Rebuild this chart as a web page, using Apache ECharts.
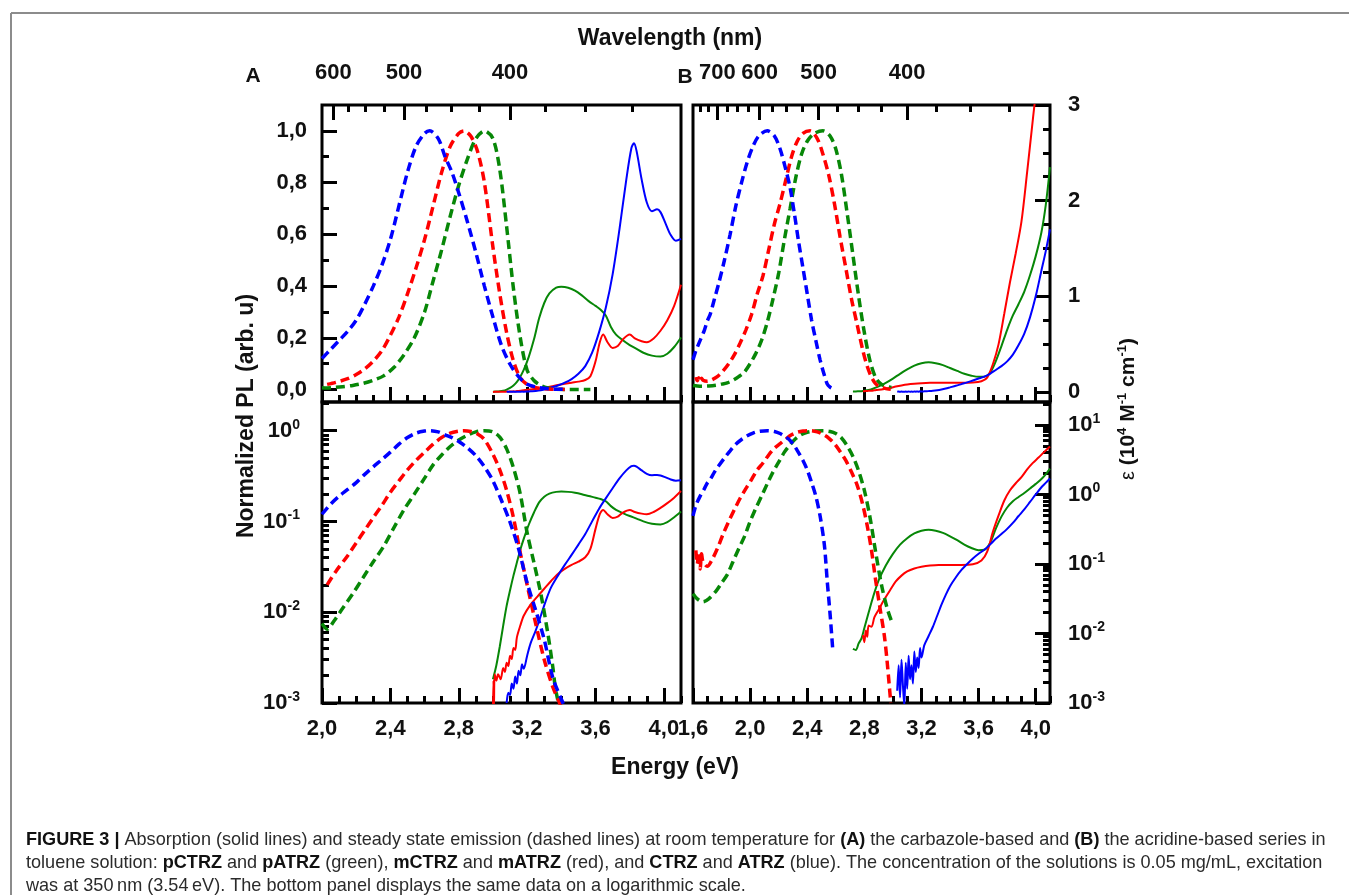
<!DOCTYPE html>
<html>
<head>
<meta charset="utf-8">
<title>Absorption and emission spectra</title>
<script src="https://cdn.jsdelivr.net/npm/echarts@6.0.0/dist/echarts.min.js"></script>
<style>
  html, body { margin: 0; padding: 0; background: #fff; }
  #chart { width: 1349px; height: 895px; }
</style>
</head>
<body>
<div id="chart"></div>
<script>
// ---------------------------------------------------------------
// Spectra: [energy (eV), value]. Emission is normalized PL,
// absorption is epsilon in 10^4 M^-1 cm^-1.
// ---------------------------------------------------------------

// (A) carbazole series - emission
const pCTRZ_em = [[2.00,0.0075],[2.03,0.0065],[2.07,0.008],[2.12,0.011],[2.18,0.016],[2.24,0.024],[2.30,0.036],[2.36,0.053],[2.42,0.085],[2.48,0.135],[2.54,0.20],[2.60,0.30],[2.65,0.42],[2.70,0.54],[2.75,0.67],[2.80,0.79],[2.85,0.89],[2.90,0.97],[2.95,1.0],[3.00,0.97],[3.04,0.85],[3.08,0.63],[3.12,0.39],[3.16,0.20],[3.20,0.075],[3.24,0.035],[3.28,0.016],[3.32,0.006],[3.35,0.0025],[3.37,0.0013],[3.42,0.0006],[3.50,0.0004],[3.57,0.0003]];
const mCTRZ_em = [[2.03,0.02],[2.08,0.028],[2.15,0.042],[2.20,0.058],[2.25,0.08],[2.30,0.11],[2.35,0.15],[2.40,0.21],[2.45,0.28],[2.50,0.37],[2.55,0.47],[2.60,0.58],[2.65,0.71],[2.70,0.84],[2.75,0.94],[2.80,0.99],[2.83,1.0],[2.87,0.98],[2.91,0.92],[2.95,0.80],[3.00,0.55],[3.04,0.37],[3.08,0.22],[3.12,0.11],[3.16,0.045],[3.20,0.02],[3.25,0.0075],[3.30,0.003],[3.35,0.0015],[3.39,0.001],[3.42,0.0007]];
const CTRZ_em = [[2.00,0.12],[2.05,0.155],[2.10,0.19],[2.15,0.225],[2.20,0.268],[2.25,0.33],[2.30,0.40],[2.35,0.48],[2.40,0.58],[2.45,0.71],[2.50,0.84],[2.55,0.94],[2.60,0.99],[2.63,1.0],[2.68,0.97],[2.72,0.90],[2.76,0.84],[2.80,0.76],[2.85,0.65],[2.90,0.53],[2.95,0.40],[3.00,0.28],[3.05,0.17],[3.10,0.098],[3.15,0.05],[3.20,0.021],[3.25,0.0105],[3.30,0.005],[3.35,0.0019],[3.40,0.0011],[3.42,0.0009]];

// (A) carbazole series - absorption
const pCTRZ_abs = [[3.00,0.0022],[3.02,0.0035],[3.04,0.0065],[3.06,0.013],[3.08,0.025],[3.10,0.042],[3.12,0.068],[3.14,0.105],[3.16,0.16],[3.18,0.23],[3.21,0.37],[3.24,0.55],[3.27,0.77],[3.30,0.93],[3.33,1.03],[3.37,1.09],[3.40,1.10],[3.44,1.09],[3.48,1.06],[3.52,1.01],[3.56,0.95],[3.60,0.90],[3.63,0.86],[3.66,0.80],[3.69,0.68],[3.72,0.60],[3.76,0.54],[3.80,0.49],[3.84,0.45],[3.88,0.41],[3.93,0.38],[3.98,0.37],[4.02,0.40],[4.06,0.47],[4.10,0.57]];
const mCTRZ_abs = [[3.000,0.0008],[3.003,0.0021],[3.006,0.0009],[3.010,0.0026],[3.020,0.0021],[3.030,0.0026],[3.045,0.0022],[3.06,0.0032],[3.07,0.0028],[3.08,0.0038],[3.09,0.0034],[3.10,0.0048],[3.11,0.0043],[3.12,0.0062],[3.13,0.0058],[3.14,0.0088],[3.16,0.013],[3.18,0.018],[3.22,0.026],[3.26,0.034],[3.30,0.044],[3.34,0.057],[3.38,0.072],[3.42,0.085],[3.46,0.097],[3.50,0.108],[3.54,0.125],[3.57,0.165],[3.60,0.32],[3.625,0.52],[3.645,0.60],[3.67,0.52],[3.70,0.46],[3.73,0.48],[3.76,0.55],[3.80,0.60],[3.83,0.56],[3.87,0.53],[3.90,0.52],[3.94,0.56],[3.98,0.64],[4.02,0.75],[4.06,0.90],[4.10,1.12]];
const CTRZ_abs = [[3.08,0.0010],[3.09,0.0014],[3.10,0.0013],[3.11,0.0019],[3.12,0.0016],[3.13,0.0024],[3.14,0.0019],[3.15,0.0029],[3.16,0.0025],[3.17,0.0036],[3.18,0.0031],[3.20,0.0048],[3.22,0.0072],[3.25,0.011],[3.28,0.018],[3.31,0.030],[3.34,0.046],[3.38,0.068],[3.42,0.097],[3.46,0.135],[3.50,0.19],[3.54,0.27],[3.58,0.41],[3.62,0.62],[3.66,0.88],[3.70,1.23],[3.74,1.70],[3.78,2.22],[3.81,2.55],[3.825,2.60],[3.84,2.52],[3.87,2.22],[3.90,1.98],[3.93,1.89],[3.96,1.91],[3.98,1.88],[4.01,1.76],[4.04,1.64],[4.07,1.58],[4.10,1.60]];

// (B) acridine series - emission
const pATRZ_em = [[1.60,0.016],[1.63,0.014],[1.67,0.013],[1.71,0.014],[1.76,0.017],[1.80,0.021],[1.84,0.026],[1.88,0.036],[1.92,0.05],[1.96,0.068],[2.00,0.10],[2.04,0.14],[2.08,0.19],[2.12,0.26],[2.16,0.35],[2.20,0.45],[2.24,0.58],[2.28,0.70],[2.32,0.82],[2.36,0.91],[2.40,0.96],[2.45,0.99],[2.51,1.0],[2.56,0.98],[2.60,0.93],[2.64,0.83],[2.68,0.68],[2.72,0.52],[2.76,0.36],[2.80,0.22],[2.84,0.11],[2.88,0.045],[2.92,0.02],[2.96,0.011],[2.99,0.008]];
const mATRZ_em = [[1.62,0.048],[1.63,0.034],[1.64,0.046],[1.65,0.030],[1.66,0.044],[1.67,0.036],[1.70,0.032],[1.73,0.037],[1.77,0.05],[1.81,0.072],[1.85,0.10],[1.89,0.135],[1.93,0.18],[1.97,0.23],[2.01,0.29],[2.05,0.37],[2.09,0.44],[2.13,0.54],[2.17,0.64],[2.21,0.72],[2.25,0.81],[2.29,0.90],[2.33,0.96],[2.37,0.99],[2.42,1.0],[2.47,0.97],[2.51,0.91],[2.55,0.83],[2.59,0.72],[2.63,0.59],[2.67,0.47],[2.71,0.35],[2.75,0.25],[2.79,0.15],[2.82,0.09],[2.85,0.048],[2.88,0.022],[2.91,0.011],[2.94,0.0055],[2.96,0.0028],[2.985,0.001]];
const ATRZ_em = [[1.60,0.115],[1.62,0.15],[1.65,0.19],[1.68,0.23],[1.70,0.265],[1.72,0.29],[1.75,0.35],[1.78,0.41],[1.82,0.50],[1.86,0.60],[1.90,0.71],[1.94,0.80],[1.98,0.88],[2.02,0.94],[2.06,0.98],[2.12,1.0],[2.17,0.98],[2.21,0.93],[2.25,0.85],[2.28,0.78],[2.31,0.68],[2.34,0.57],[2.37,0.47],[2.40,0.37],[2.43,0.27],[2.46,0.19],[2.49,0.115],[2.52,0.055],[2.54,0.022],[2.56,0.0095],[2.578,0.004]];

// (B) acridine series - absorption
const pATRZ_abs = [[2.72,0.006],[2.74,0.0058],[2.76,0.0072],[2.78,0.0085],[2.80,0.012],[2.83,0.02],[2.86,0.033],[2.90,0.058],[2.95,0.095],[3.00,0.14],[3.05,0.19],[3.10,0.235],[3.15,0.275],[3.20,0.30],[3.25,0.31],[3.30,0.30],[3.35,0.28],[3.40,0.25],[3.45,0.22],[3.50,0.19],[3.55,0.17],[3.60,0.158],[3.64,0.16],[3.68,0.20],[3.72,0.32],[3.76,0.48],[3.80,0.65],[3.84,0.80],[3.88,0.92],[3.92,1.05],[3.96,1.22],[4.00,1.42],[4.04,1.67],[4.07,1.95],[4.10,2.35]];
const mATRZ_abs = [[2.79,0.0095],[2.80,0.0075],[2.81,0.011],[2.82,0.009],[2.83,0.013],[2.85,0.0125],[2.87,0.017],[2.90,0.022],[2.94,0.031],[2.98,0.042],[3.02,0.056],[3.06,0.068],[3.10,0.078],[3.15,0.086],[3.20,0.091],[3.26,0.095],[3.32,0.097],[3.40,0.097],[3.48,0.097],[3.56,0.099],[3.62,0.112],[3.66,0.15],[3.70,0.29],[3.74,0.50],[3.78,0.82],[3.82,1.15],[3.86,1.45],[3.90,1.78],[3.94,2.3],[3.98,2.85],[4.02,3.4],[4.06,4.1],[4.10,4.9]];
const ATRZ_abs = [[3.03,0.0015],[3.04,0.0035],[3.05,0.0012],[3.06,0.0042],[3.07,0.0018],[3.08,0.0009],[3.09,0.0038],[3.10,0.0016],[3.11,0.0048],[3.12,0.0022],[3.13,0.0035],[3.14,0.0019],[3.15,0.0055],[3.16,0.0028],[3.17,0.0045],[3.18,0.0032],[3.19,0.0062],[3.20,0.0045],[3.22,0.0068],[3.25,0.0092],[3.28,0.0125],[3.31,0.018],[3.34,0.026],[3.37,0.036],[3.40,0.048],[3.44,0.064],[3.48,0.082],[3.52,0.10],[3.56,0.12],[3.60,0.14],[3.64,0.16],[3.68,0.19],[3.72,0.23],[3.76,0.27],[3.80,0.32],[3.84,0.39],[3.88,0.49],[3.92,0.61],[3.96,0.78],[4.00,1.0],[4.04,1.27],[4.07,1.47],[4.10,1.70]];

// Axis ticks and labels
const energyTicksA = [2.0, 2.4, 2.8, 3.2, 3.6, 4.0];
const energyTicksB = [1.6, 2.0, 2.4, 2.8, 3.2, 3.6, 4.0];
const wavelengthLabelsA = [600, 500, 400];
const wavelengthLabelsB = [700, 600, 500, 400];
const wavelengthStep = 25;
const plTicks = [0, 0.2, 0.4, 0.6, 0.8, 1.0];
const epsTicks = [0, 1, 2, 3];
const plLogTicks = [0.001, 0.01, 0.1, 1];
const epsLogTicks = [0.001, 0.01, 0.1, 1, 10];

// ---------------------------------------------------------------
const HC = 1239.84;                 // eV * nm
const FONT = '"Liberation Sans", Arial, sans-serif';
const INK = '#111';
const GREEN = '#078707', RED = '#ff0000', BLUE = '#0000ff';

const RANGE_A = [2.0, 4.1];
const RANGE_B = [1.6, 4.1];
const PL_LIN = [-0.048, 1.1];
const EPS_LIN = [-0.105, 3.0];
const PL_LOG = [0.001, 2.07];
const EPS_LOG = [0.001, 21.4];

const comma = v => v.toFixed(1).replace('.', ',');

// minor ticks on a linear axis: every `step`, skipping the majors
function linMinors(r, step, majors) {
  const out = [];
  for (let k = Math.ceil(r[0] / step - 1e-9); k * step <= r[1] + 1e-9; k++) {
    const v = Math.round(k * step * 1000) / 1000;
    if (!majors.some(m => Math.abs(m - v) < 1e-6)) out.push(v);
  }
  return out;
}
// minor ticks on a log axis: 2..9 within each decade
function logMinors(r) {
  const out = [];
  for (let e = Math.floor(Math.log10(r[0])); e <= Math.ceil(Math.log10(r[1])); e++) {
    for (let m = 2; m <= 9; m++) {
      const v = +(m * Math.pow(10, e)).toPrecision(3);
      if (v > r[0] && v < r[1]) out.push(v);
    }
  }
  return out;
}
// wavelength grid (nm) whose energies fall inside the panel range
function wavelengthTicks(r) {
  const out = [];
  for (let nm = 800; nm >= 300; nm -= wavelengthStep) {
    const e = HC / nm;
    if (e >= r[0] && e <= r[1]) out.push(nm);
  }
  return out;
}

const tickStyle = { color: '#000', width: 3 };
const labelBase = { color: INK, fontFamily: FONT, fontWeight: 'bold', fontSize: 22 };
const supRich = {
  b: { fontFamily: FONT, fontWeight: 'bold', fontSize: 22, color: INK, lineHeight: 26 },
  s: { fontFamily: FONT, fontWeight: 'bold', fontSize: 14, color: INK, lineHeight: 14, verticalAlign: 'top' }
};
const powLabel = v => '{b|10}{s|' + Math.round(Math.log10(v)) + '}';

function tickAxis(extra, values, len, label) {
  return Object.assign({
    type: 'value',
    axisLine: { show: false, onZero: false },
    splitLine: { show: false },
    axisTick: { show: true, inside: true, length: len, customValues: values, lineStyle: tickStyle },
    axisLabel: label ? Object.assign({ customValues: values }, labelBase, label) : { show: false }
  }, extra);
}

function energyPair(grid, r, majors, showLabels) {
  const minors = linMinors(r, 0.1, majors);
  return [
    tickAxis({ gridIndex: grid, position: 'bottom', min: r[0], max: r[1] }, majors, 15,
      showLabels ? { formatter: comma, margin: 15 } : null),
    tickAxis({ gridIndex: grid, position: 'bottom', min: r[0], max: r[1] }, minors, 7, null)
  ];
}
function wavelengthPair(grid, r, labels) {
  const all = wavelengthTicks(r);
  const majorE = labels.map(nm => HC / nm);
  const minorE = all.filter(nm => labels.indexOf(nm) < 0).map(nm => HC / nm);
  return [
    tickAxis({ gridIndex: grid, position: 'top', min: r[0], max: r[1] }, majorE, 15,
      { formatter: v => String(Math.round(HC / v)), margin: 21 }),
    tickAxis({ gridIndex: grid, position: 'top', min: r[0], max: r[1] }, minorE, 7, null)
  ];
}
function hiddenAxis(extra) {
  return Object.assign({ show: false, axisLine: { onZero: false }, splitLine: { show: false } }, extra);
}

const xAxis = [].concat(
  energyPair(0, RANGE_A, energyTicksA, false),      // 0,1
  wavelengthPair(0, RANGE_A, wavelengthLabelsA),     // 2,3
  energyPair(1, RANGE_B, energyTicksB, false),      // 4,5
  wavelengthPair(1, RANGE_B, wavelengthLabelsB),     // 6,7
  energyPair(2, RANGE_A, energyTicksA, true),       // 8,9
  energyPair(3, RANGE_B, energyTicksB, true)        // 10,11
);

const yAxis = [
  // 0,1  (A, linear) normalized PL
  tickAxis({ gridIndex: 0, position: 'left', min: PL_LIN[0], max: PL_LIN[1] }, plTicks, 15, { formatter: comma, margin: 15 }),
  tickAxis({ gridIndex: 0, position: 'left', min: PL_LIN[0], max: PL_LIN[1] }, linMinors([0, 1.05], 0.1, plTicks), 7, null),
  // 2  (A, linear) epsilon, no ticks
  hiddenAxis({ type: 'value', gridIndex: 0, position: 'right', min: EPS_LIN[0], max: EPS_LIN[1] }),
  // 3  (B, linear) normalized PL, no ticks
  hiddenAxis({ type: 'value', gridIndex: 1, position: 'left', min: PL_LIN[0], max: PL_LIN[1] }),
  // 4,5 (B, linear) epsilon
  tickAxis({ gridIndex: 1, position: 'right', min: EPS_LIN[0], max: EPS_LIN[1] }, epsTicks, 15, { formatter: v => String(v), margin: 18 }),
  tickAxis({ gridIndex: 1, position: 'right', min: EPS_LIN[0], max: EPS_LIN[1] }, linMinors([0, 3], 0.25, epsTicks), 7, null),
  // 6,7 (A, log) normalized PL
  tickAxis({ type: 'log', logBase: 10, gridIndex: 2, position: 'left', min: PL_LOG[0], max: PL_LOG[1] }, plLogTicks, 15,
    { formatter: powLabel, rich: supRich, margin: 22 }),
  tickAxis({ type: 'log', logBase: 10, gridIndex: 2, position: 'left', min: PL_LOG[0], max: PL_LOG[1] }, logMinors(PL_LOG), 7, null),
  // 8  (A, log) epsilon, no ticks
  hiddenAxis({ type: 'log', logBase: 10, gridIndex: 2, position: 'right', min: EPS_LOG[0], max: EPS_LOG[1] }),
  // 9  (B, log) normalized PL, no ticks
  hiddenAxis({ type: 'log', logBase: 10, gridIndex: 3, position: 'left', min: PL_LOG[0], max: PL_LOG[1] }),
  // 10,11 (B, log) epsilon
  tickAxis({ type: 'log', logBase: 10, gridIndex: 3, position: 'right', min: EPS_LOG[0], max: EPS_LOG[1] }, epsLogTicks, 15,
    { formatter: powLabel, rich: supRich, margin: 18 }),
  tickAxis({ type: 'log', logBase: 10, gridIndex: 3, position: 'right', min: EPS_LOG[0], max: EPS_LOG[1] }, logMinors(EPS_LOG), 7, null)
];

function curve(data, color, dashed, xi, yi) {
  return {
    type: 'line', data: data, xAxisIndex: xi, yAxisIndex: yi,
    showSymbol: false, symbol: 'none', smooth: 0.3, silent: true,
    itemStyle: { color: color },
    lineStyle: { color: color, width: dashed ? 3.5 : 2, type: dashed ? [9, 5] : 'solid' },
    z: dashed ? 3 : 2
  };
}

// [x axis, emission y axis, absorption y axis] per panel
const panels = [
  { axes: [0, 0, 2], em: [pCTRZ_em, mCTRZ_em, CTRZ_em], abs: [pCTRZ_abs, mCTRZ_abs, CTRZ_abs] },
  { axes: [4, 3, 4], em: [pATRZ_em, mATRZ_em, ATRZ_em], abs: [pATRZ_abs, mATRZ_abs, ATRZ_abs] },
  { axes: [8, 6, 8], em: [pCTRZ_em, mCTRZ_em, CTRZ_em], abs: [pCTRZ_abs, mCTRZ_abs, CTRZ_abs] },
  { axes: [10, 9, 10], em: [pATRZ_em, mATRZ_em, ATRZ_em], abs: [pATRZ_abs, mATRZ_abs, ATRZ_abs] }
];
const palette = [GREEN, RED, BLUE];
const series = [];
panels.forEach(p => {
  p.abs.forEach((d, i) => series.push(curve(d, palette[i], false, p.axes[0], p.axes[2])));
  p.em.forEach((d, i) => series.push(curve(d, palette[i], true, p.axes[0], p.axes[1])));
});

const frame = { show: true, borderColor: '#000', borderWidth: 3, backgroundColor: 'transparent',
  containLabel: false, outerBoundsMode: 'none' };
const grid = [
  Object.assign({ left: 322, top: 105, width: 359, height: 297 }, frame),
  Object.assign({ left: 693, top: 105, width: 357, height: 297 }, frame),
  Object.assign({ left: 322, top: 402, width: 359, height: 301 }, frame),
  Object.assign({ left: 693, top: 402, width: 357, height: 301 }, frame)
];

// ---- caption ----
const CAP_SIZE = 19;
const CAP_COLOR = '#2b2b2b';
const CAP_FAMILY = '"Liberation Sans", Arial, sans-serif';
const captionLines = [
  [[1, 'FIGURE 3 |'], [0, ' Absorption (solid lines) and steady state emission (dashed lines) at room temperature for '], [1, '(A)'], [0, ' the carbazole-based and '], [1, '(B)'], [0, ' the acridine-based series in']],
  [[0, 'toluene solution: '], [1, 'pCTRZ'], [0, ' and '], [1, 'pATRZ'], [0, ' (green), '], [1, 'mCTRZ'], [0, ' and '], [1, 'mATRZ'], [0, ' (red), and '], [1, 'CTRZ'], [0, ' and '], [1, 'ATRZ'], [0, ' (blue). The concentration of the solutions is 0.05 mg/mL, excitation']],
  [[0, 'was at 350\u2009nm (3.54\u2009eV). The bottom panel displays the same data on a logarithmic scale.']]
];
const capFont = b => (b ? 'bold ' : '') + CAP_SIZE + 'px ' + CAP_FAMILY;
const measureCtx = document.createElement('canvas').getContext('2d');
function lineWidth(parts) {
  return parts.reduce((s, p) => { measureCtx.font = capFont(p[0]); return s + measureCtx.measureText(p[1]).width; }, 0);
}
const capTargets = [1296, 1300];
const capScale = (capTargets[0] / lineWidth(captionLines[0]) + capTargets[1] / lineWidth(captionLines[1])) / 2;
const capRich = {
  b: { fontFamily: CAP_FAMILY, fontWeight: 'bold', fontSize: CAP_SIZE, fill: '#111' },
  r: { fontFamily: CAP_FAMILY, fontWeight: 'normal', fontSize: CAP_SIZE, fill: CAP_COLOR }
};
const captionGraphics = captionLines.map((parts, i) => ({
  type: 'text', x: 26, y: 840 + i * 23, scaleX: capScale, silent: true,
  style: {
    text: parts.map(p => '{' + (p[0] ? 'b' : 'r') + '|' + p[1] + '}').join(''),
    rich: capRich, verticalAlign: 'middle', textVerticalAlign: 'middle', align: 'left', textAlign: 'left'
  }
}));

const titleStyle = (text, size) => ({
  text: text, font: 'bold ' + size + 'px ' + FONT, fill: INK,
  align: 'center', textAlign: 'center', verticalAlign: 'middle', textVerticalAlign: 'middle'
});

const graphic = [
  { type: 'line', silent: true, shape: { x1: 11, y1: 13, x2: 1349, y2: 13 }, style: { stroke: '#8c8c8c', lineWidth: 2 } },
  { type: 'line', silent: true, shape: { x1: 11, y1: 13, x2: 11, y2: 895 }, style: { stroke: '#8c8c8c', lineWidth: 2 } },
  { type: 'text', silent: true, x: 670, y: 39, style: titleStyle('Wavelength (nm)', 23) },
  { type: 'text', silent: true, x: 675, y: 768, style: titleStyle('Energy (eV)', 23) },
  { type: 'text', silent: true, x: 253, y: 76, style: titleStyle('A', 21) },
  { type: 'text', silent: true, x: 685, y: 77, style: titleStyle('B', 21) },
  { type: 'text', silent: true, x: 247, y: 416, rotation: Math.PI / 2, style: titleStyle('Normalized PL (arb. u)', 23) },
  { type: 'text', silent: true, x: 1128, y: 409, rotation: Math.PI / 2,
    style: {
      text: '{e|\u03b5}{r| (10}{s|4}{r| M}{s|-1}{r| cm}{s|-1}{r|)}',
      rich: {
        e: { fontFamily: FONT, fontWeight: 'normal', fontSize: 20, fill: INK, lineHeight: 24 },
        r: { fontFamily: FONT, fontWeight: 'bold', fontSize: 21, fill: INK, lineHeight: 24 },
        s: { fontFamily: FONT, fontWeight: 'bold', fontSize: 13, fill: INK, lineHeight: 13, verticalAlign: 'top' }
      },
      align: 'center', textAlign: 'center', verticalAlign: 'middle', textVerticalAlign: 'middle'
    } }
].concat(captionGraphics);

const chart = echarts.init(document.getElementById('chart'), null, { renderer: 'canvas' });
chart.setOption({
  backgroundColor: '#ffffff',
  animation: false,
  grid: grid,
  xAxis: xAxis,
  yAxis: yAxis,
  series: series,
  graphic: graphic
});
</script>
</body>
</html>
